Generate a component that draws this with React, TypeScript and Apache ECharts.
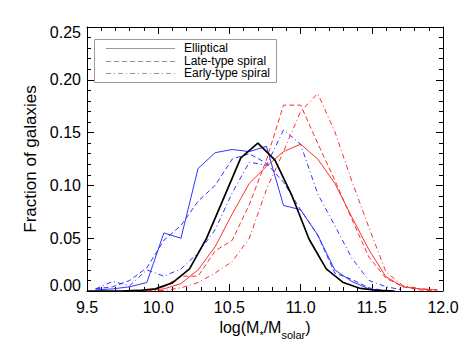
import React, { useEffect, useRef } from "react";
import * as echarts from "echarts";

// Bin centres (log stellar mass)
const ellipticalX = [9.5, 9.62, 9.74, 9.86, 9.98, 10.1, 10.22, 10.34, 10.46, 10.58, 10.7, 10.82, 10.94, 11.06, 11.18, 11.3, 11.42, 11.54, 11.66];
const colourX = [9.56, 9.68, 9.8, 9.92, 10.04, 10.16, 10.28, 10.4, 10.52, 10.64, 10.76, 10.88, 11.0, 11.12, 11.24, 11.36, 11.48, 11.6, 11.72, 11.84, 11.96];

// Black: all ellipticals
const blackElliptical = [0, 0, 0, 0.0005, 0.002, 0.0077, 0.021, 0.05, 0.088, 0.126, 0.14, 0.124, 0.09, 0.049, 0.021, 0.008, 0.0024, 0.0005, 0];

// Blue sample
const blueElliptical = [0.001, 0.002, 0.004, 0.008, 0.055, 0.05, 0.116, 0.131, 0.134, 0.132, 0.137, 0.081, 0.077, 0.053, 0.02, 0.009, 0.002, 0, null, null, null];
const blueLate = [0.002, 0.004, 0.01, 0.022, 0.048, 0.062, 0.085, 0.1, 0.125, 0.13, 0.121, 0.103, 0.077, 0.053, 0.017, 0.011, 0.003, 0, null, null, null];
const blueEarly = [0.002, 0.009, 0.005, 0.02, 0.014, 0.021, 0.036, 0.058, 0.093, 0.122, 0.119, 0.1525, 0.139, 0.092, 0.062, 0.031, 0.01, 0.004, 0.001, null, null];

// Red sample
const redElliptical = [null, null, 0, 0.0005, 0.002, 0.007, 0.02, 0.042, 0.073, 0.102, 0.118, 0.132, 0.139, 0.125, 0.102, 0.07, 0.039, 0.0134, 0.004, 0.002, 0.001];
const redLate = [null, null, null, 0, 0.004, 0.014, 0.014, 0.038, 0.048, 0.082, 0.124, 0.176, 0.176, 0.14, 0.105, 0.068, 0.032, 0.012, 0.004, 0.001, 0];
const redEarly = [null, null, null, 0, 0.0005, 0.003, 0.008, 0.017, 0.028, 0.05, 0.096, 0.132, 0.17, 0.187, 0.151, 0.104, 0.06, 0.018, 0.005, 0.002, 0.001];

const legendLabels = ["Elliptical", "Late-type spiral", "Early-type spiral"];

const FONT = "Liberation Sans, Arial, Helvetica, sans-serif";
const BLUE = "#3232ff";
const RED = "#ff2e2e";
const DASHED = [5, 3];
const DASHDOT = [5, 3, 1, 3];

function pairs(xs: number[], ys: (number | null)[]) {
  return ys.map((y, i) => [xs[i], y]);
}

function line(name: string, xs: number[], ys: (number | null)[], color: string, dash: any, width = 1) {
  return {
    type: "line",
    name,
    data: pairs(xs, ys),
    symbol: "none",
    xAxisIndex: 0,
    yAxisIndex: 0,
    lineStyle: { color, width, type: dash },
    connectNulls: false,
  };
}

const tickCommon = {
  axisLine: { show: true, onZero: false, lineStyle: { color: "#000", width: 1 } },
  axisTick: { show: true, inside: true, length: 7, lineStyle: { color: "#000", width: 1 } },
  minorTick: { show: true, splitNumber: 5, length: 4, lineStyle: { color: "#000", width: 1 } },
  splitLine: { show: false },
  minorSplitLine: { show: false },
};

export default function App() {
  const ref = useRef<HTMLDivElement>(null);
  useEffect(() => {
    if (!ref.current) return;
    const chart = echarts.init(ref.current, null, { renderer: "svg" });
    const legendTop = 39;
    const rowY = [48, 60.5, 73];
    const dashes = [null, DASHED, DASHDOT];
    const option: any = {
      animation: false,
      backgroundColor: "#fff",
      grid: { left: 87, right: 27, top: 27, bottom: 55 },
      xAxis: [
        {
          type: "value",
          min: 9.5,
          max: 12,
          interval: 0.5,
          position: "bottom",
          ...tickCommon,
          axisLabel: {
            formatter: (v: number) => v.toFixed(1),
            color: "#000",
            fontSize: 16,
            fontFamily: FONT,
            margin: 8,
          },
          name: "{n|log(M}{s|*}{n|/M}{s|solar}{n|)}",
          nameLocation: "middle",
          nameGap: 23,
          nameTextStyle: {
            rich: {
              n: { fontSize: 16, fontFamily: FONT, color: "#000", lineHeight: 26, verticalAlign: "middle" },
              s: { fontSize: 11, fontFamily: FONT, color: "#000", lineHeight: 11, verticalAlign: "bottom" },
            },
          },
        },
        {
          type: "value",
          min: 9.5,
          max: 12,
          interval: 0.5,
          position: "top",
          ...tickCommon,
          axisLabel: { show: false },
        },
      ],
      yAxis: [
        {
          type: "value",
          min: 0,
          max: 0.25,
          interval: 0.05,
          position: "left",
          ...tickCommon,
          axisLabel: {
            formatter: (v: number) => {
              const t = v.toFixed(2);
              if (v <= 0.0001) return "{lo|" + t + "}";
              if (v >= 0.2499) return "{hi|" + t + "}";
              return "{m|" + t + "}";
            },
            color: "#000",
            fontSize: 16,
            fontFamily: FONT,
            margin: 6,
            rich: {
              m: { fontSize: 16, fontFamily: FONT, color: "#000" },
              lo: { fontSize: 16, fontFamily: FONT, color: "#000", padding: [0, 0, 11, 0] },
              hi: { fontSize: 16, fontFamily: FONT, color: "#000", padding: [11, 0, 0, 0] },
            },
          },
          name: "Fraction of galaxies",
          nameLocation: "middle",
          nameGap: 46,
          nameTextStyle: { fontSize: 17, fontFamily: FONT, color: "#000" },
        },
        {
          type: "value",
          min: 0,
          max: 0.25,
          interval: 0.05,
          position: "right",
          ...tickCommon,
          axisLabel: { show: false },
        },
      ],
      series: [
        line("Blue elliptical", colourX, blueElliptical, BLUE, "solid"),
        line("Blue late-type", colourX, blueLate, BLUE, DASHED),
        line("Blue early-type", colourX, blueEarly, BLUE, DASHDOT),
        line("Red elliptical", colourX, redElliptical, RED, "solid"),
        line("Red late-type", colourX, redLate, RED, DASHED),
        line("Red early-type", colourX, redEarly, RED, DASHDOT),
        line("All elliptical", ellipticalX, blackElliptical, "#000", "solid", 1.7),
      ],
      graphic: [
        {
          type: "rect",
          shape: { x: 94.5, y: legendTop + 0.5, width: 182, height: 43 },
          style: { fill: "#fff", stroke: "#9a9a9a", lineWidth: 1 },
          z: 100,
        },
        ...legendLabels.flatMap((label, i) => [
          {
            type: "line",
            shape: { x1: 106, y1: Math.round(rowY[i]) + 0.5, x2: 175, y2: Math.round(rowY[i]) + 0.5 },
            style: { stroke: "#999", lineWidth: 1, lineDash: dashes[i] || undefined },
            z: 101,
          },
          {
            type: "text",
            x: 184,
            y: rowY[i],
            style: {
              text: label,
              fill: "#000",
              fontSize: 12,
              fontFamily: FONT,
              lineHeight: 12,
              verticalAlign: "middle",
              align: "left",
            },
            z: 101,
          },
        ]),
      ],
    };
    chart.setOption(option);
    return () => chart.dispose();
  }, []);
  return (
    <div
      ref={ref}
      style={{ position: "fixed", left: 0, top: 0, width: 470, height: 346, background: "#fff" }}
    />
  );
}
